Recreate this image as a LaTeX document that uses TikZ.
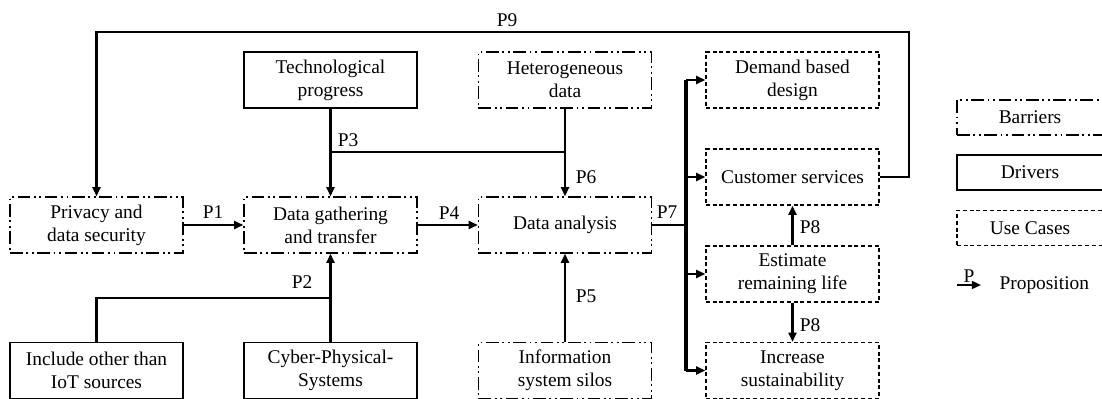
\documentclass[tikz,border=0pt]{standalone}
\usepackage{fontspec}
\setmainfont{Liberation Serif}
\usepackage{tikz}
\usetikzlibrary{arrows.meta, positioning, calc}

\tikzset{
    box/.style={draw, line width=0.9pt, minimum width=4.325cm, minimum height=1.4cm, inner sep=0pt, align=center},
    barrier/.style={box, dash pattern=on 9pt off 2.6pt on 1.3pt off 2.6pt on 1.3pt off 2.6pt},
    driver/.style={box},
    usecase/.style={box, dash pattern=on 2.8pt off 2pt},
    legendbox/.style={minimum width=3.65cm, minimum height=0.875cm},
    conn/.style={line width=1.5pt},
    arr/.style={conn, -{Triangle[length=6.5pt, width=5.6pt]}},
    plabel/.style={inner sep=1pt}
}

\begin{document}
\begin{tikzpicture}[x=0.025cm, y=-0.025cm, font=\fontsize{13.8}{16.4}\selectfont]
    \useasboundingbox (0,0) rectangle (1102,399);
    % boxes
    \node[barrier] (priv) at (96.5,225) {Privacy and\\data security};
    \node[barrier] (gather) at (330.5,225) {Data gathering\\and transfer};
    \node[barrier] (analysis) at (565,225) {Data analysis};
    \node[driver] (tech) at (330.5,80) {Technological\\progress};
    \node[barrier] (hetero) at (565,80) {Heterogeneous\\data};
    \node[driver] (iot) at (96.5,370.5) {Include other than\\IoT sources};
    \node[driver] (cps) at (330.5,370.5) {Cyber-Physical-\\Systems};
    \node[barrier] (silos) at (565,370.5) {Information\\system silos};
    \node[usecase] (demand) at (792.5,80) {Demand based\\design};
    \node[usecase] (customer) at (792.5,177) {Customer services};
    \node[usecase] (estimate) at (792.5,274) {Estimate\\remaining life};
    \node[usecase] (increase) at (792.5,370.5) {Increase\\sustainability};
    % legend
    \node[barrier, legendbox] (legbar) at (1030,117.5) {Barriers};
    \node[driver, legendbox] (legdrv) at (1030,172.5) {Drivers};
    \node[usecase, legendbox] (leguse) at (1030,228) {Use Cases};
    \coordinate (legA) at (957,285);
    \coordinate (legB) at (981,285);
    \draw[arr] (legA) -- (legB) node[midway, above, plabel] (legP) {P};
    \node[right=13pt of legB, inner sep=0pt] (legprop) {Proposition};
    % P1, P4
    \draw[arr] (priv) -- (gather);
    \node[plabel] (p1) at (213,212) {P1};
    \draw[arr] (gather) -- (analysis);
    \node[plabel] (p4) at (449,213) {P4};
    % P2
    \coordinate (p2join) at (330.5,298);
    \draw[conn] (iot.north) |- (p2join);
    \draw[arr] (cps.north) -- (gather.south);
    \node[plabel] (p2) at (302,282) {P2};
    % P3, P6
    \coordinate (p3join) at (330.5,152);
    \draw[arr] (tech.south) -- (gather.north);
    \draw[arr] (hetero.south) -- (analysis.north);
    \draw[conn] (tech.south |- p3join) -- (hetero.south |- p3join);
    \node[plabel] (p3) at (348,140) {P3};
    \node[plabel] (p6) at (586,177) {P6};
    % P5
    \draw[arr] (silos.north) -- (analysis.south);
    \node[plabel] (p5) at (586,296) {P5};
    % P7
    \coordinate (bus) at (686,225);
    \draw[conn] (analysis.east) -- (bus);
    \draw[line width=2.2pt] (bus |- demand.west) -- (bus |- increase.west);
    \foreach \t in {demand, customer, estimate, increase}
        \draw[arr] (bus |- \t.west) -- (\t.west);
    \node[plabel] (p7) at (667,212) {P7};
    % P8
    \draw[arr] (estimate.north) -- (customer.south);
    \node[plabel] (p8a) at (810,227) {P8};
    \draw[arr] (estimate.south) -- (increase.north);
    \node[plabel] (p8b) at (810,325) {P8};
    % P9
    \coordinate (p9corner) at (909,32);
    \draw[arr] (customer.east) -| (p9corner) -| (priv.north);
    \node[plabel] (p9) at (507,20) {P9};
\end{tikzpicture}
\end{document}
